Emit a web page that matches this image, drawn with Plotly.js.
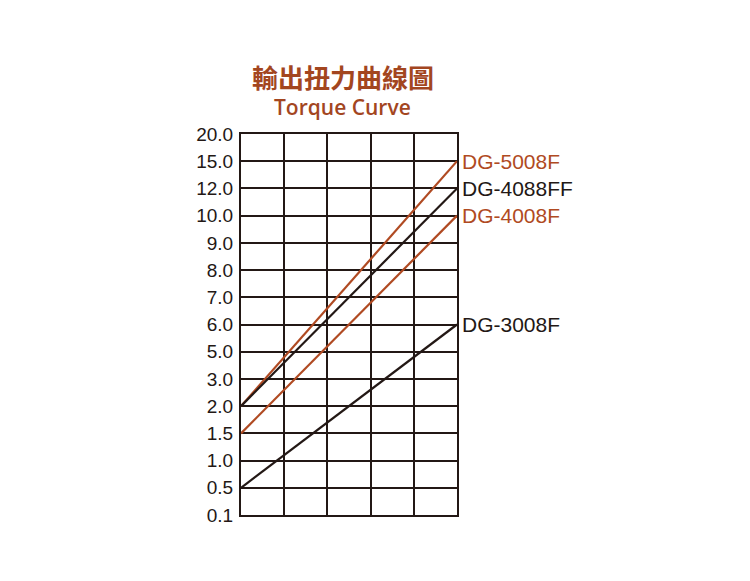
<!DOCTYPE html>
<html>
<head>
<meta charset="utf-8">
<script src="https://cdn.plot.ly/plotly-3.0.1.min.js"></script>
<style>html,body{margin:0;padding:0;background:#fff;}#chart{width:750px;height:581px;}</style>
</head>
<body>
<div id="chart"></div>
<script>
// Torque axis tick labels (equally spaced, bottom to top)
var torqueTicks = ["0.1","0.5","1.0","1.5","2.0","3.0","5.0","6.0","7.0","8.0","9.0","10.0","12.0","15.0","20.0"];
// Series: start and end torque at x = 0 and x = 5
var xPoints = [0, 5];
var modelNames = ["DG-5008F", "DG-4088FF", "DG-4008F", "DG-3008F"];
var dg5008F = ["2.0", "15.0"];
var dg4088FF = ["2.0", "12.0"];
var dg4008F = ["1.5", "10.0"];
var dg3008F = ["0.5", "6.0"];
var seriesColors = ["#b04a22", "#231815", "#b04a22", "#231815"];

var seriesVals = [dg5008F, dg4088FF, dg4008F, dg3008F];
var traces = seriesVals.map(function (v, i) {
  return {x: xPoints, y: v, type: "scatter", mode: "lines", name: modelNames[i],
          line: {color: seriesColors[i], width: 2.2}, hoverinfo: "skip"};
});

var annotations = seriesVals.map(function (v, i) {
  return {x: 5, y: torqueTicks.indexOf(v[1]), xref: "x", yref: "y", text: modelNames[i], showarrow: false,
          xanchor: "left", yanchor: "middle", xshift: 3,
          font: {family: "Liberation Sans, Arial, sans-serif", size: 21, color: seriesColors[i]}};
});
annotations.push({x: 0.47, y: 1, xref: "paper", yref: "paper", yshift: 58,
  text: "輸出扭力曲線圖", showarrow: false, xanchor: "center", yanchor: "middle",
  font: {family: "Noto Sans CJK TC, sans-serif", size: 26, weight: 700, color: "#a3461f"}});
annotations.push({x: 0.47, y: 1, xref: "paper", yref: "paper", yshift: 27,
  text: "Torque Curve", showarrow: false, xanchor: "center", yanchor: "middle",
  font: {family: "Open Sans, sans-serif", size: 21, weight: 600, color: "#a3461f"}});

var layout = {
  width: 750, height: 581,
  margin: {l: 241, r: 293, t: 134, b: 66},
  paper_bgcolor: "#fff", plot_bgcolor: "#fff",
  showlegend: false,
  xaxis: {range: [0, 5], dtick: 1, showticklabels: false, ticks: "",
          showgrid: true, gridcolor: "#231815", gridwidth: 2, zeroline: false,
          showline: true, linecolor: "#231815", linewidth: 2, mirror: true, fixedrange: true},
  yaxis: {type: "category", categoryarray: torqueTicks, categoryorder: "array",
          range: [0, torqueTicks.length - 1], ticks: "", ticklabelstandoff: 2,
          showgrid: true, gridcolor: "#231815", gridwidth: 2, zeroline: false,
          showline: true, linecolor: "#231815", linewidth: 2, mirror: true,
          tickfont: {family: "Liberation Sans, Arial, sans-serif", size: 19, color: "#231815"},
          fixedrange: true},
  annotations: annotations
};
// invisible trace to ensure all categories exist
traces.unshift({x: torqueTicks.map(function(){return 0;}), y: torqueTicks, type: "scatter", mode: "markers",
  marker: {opacity: 0}, hoverinfo: "skip"});

Plotly.newPlot("chart", traces, layout, {displayModeBar: false, staticPlot: true});
</script>
</body>
</html>
